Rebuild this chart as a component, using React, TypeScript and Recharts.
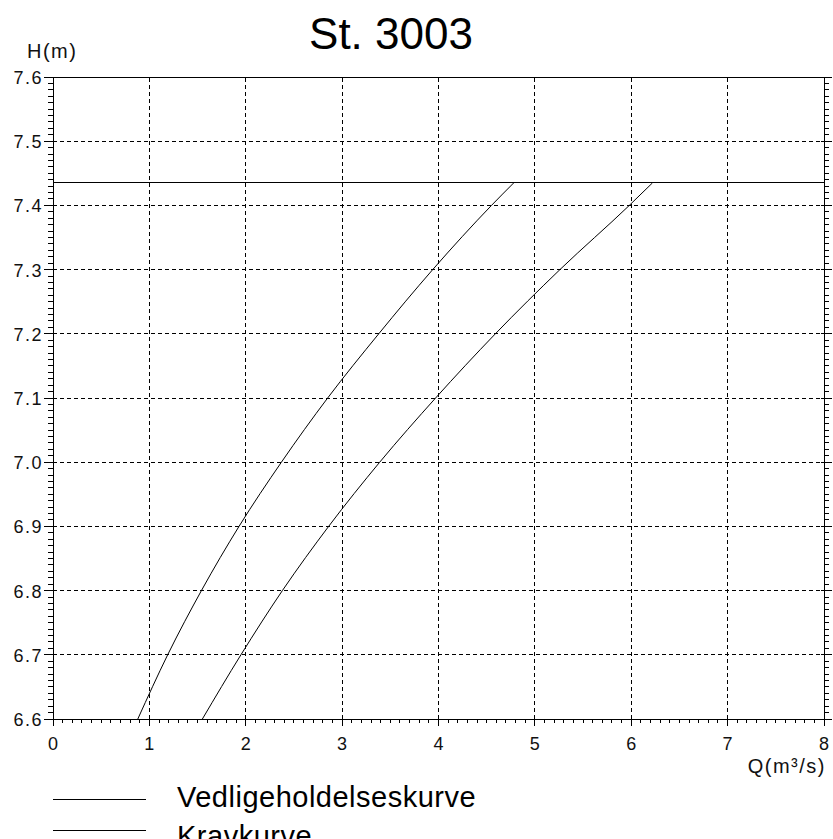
import React from "react";
import { LineChart, Line, XAxis, YAxis, ReferenceLine } from "recharts";

// ---- data ----
const Q_TICKS = [0, 1, 2, 3, 4, 5, 6, 7, 8];
const H_TICKS = [6.6, 6.7, 6.8, 6.9, 7.0, 7.1, 7.2, 7.3, 7.4, 7.5, 7.6];
const MINOR_DIVISIONS = 10;

const VEDL_H = [6.6, 6.7, 6.8, 6.9, 7.0, 7.1, 7.2, 7.3, 7.4, 7.435];
const VEDL_Q = [0.88, 1.19, 1.54, 1.93, 2.37, 2.85, 3.38, 3.94, 4.55, 4.78];

const KRAV_H = [6.6, 6.7, 6.8, 6.9, 7.0, 7.1, 7.2, 7.3, 7.4, 7.435];
const KRAV_Q = [1.55, 1.95, 2.38, 2.86, 3.39, 3.97, 4.59, 5.26, 5.98, 6.22];

const TOP_LEVEL = 7.435;

const TITLE = "St. 3003";
const Y_LABEL = "H(m)";
const X_LABEL = "Q(m³/s)";
const LEGEND = ["Vedligeholdelseskurve", "Kravkurve"];

// ---- derived ----
const vedlData = VEDL_Q.map((q, i) => ({ q, h: VEDL_H[i] }));
const kravData = KRAV_Q.map((q, i) => ({ q, h: KRAV_H[i] }));

function subdivide(majors: number[], n: number): number[] {
  const out: number[] = [];
  for (let i = 0; i < majors.length - 1; i++) {
    for (let j = 0; j < n; j++) {
      out.push(Number((majors[i] + ((majors[i + 1] - majors[i]) * j) / n).toFixed(4)));
    }
  }
  out.push(majors[majors.length - 1]);
  return out;
}
const Q_ALL = subdivide(Q_TICKS, MINOR_DIVISIONS);
const H_ALL = subdivide(H_TICKS, MINOR_DIVISIONS);
const isMajor = (v: number, majors: number[]) => majors.some((m) => Math.abs(m - v) < 1e-6);

const FONT = "'Liberation Sans', Arial, sans-serif";
const tickText = { fontFamily: FONT, fontSize: 18, fill: "#111", letterSpacing: 1.5 } as const;

const BottomTick = (props: any) => {
  const { x, y, payload } = props;
  const v = payload.value;
  const major = isMajor(v, Q_TICKS);
  return (
    <g>
      <line x1={x} x2={x} y1={major ? y - 3 : y} y2={major ? y + 7 : y + 4} stroke="#000" shapeRendering="crispEdges" />
      {major && (
        <text x={x + 0.75} y={y + 31} textAnchor="middle" style={tickText}>
          {String(Math.round(v))}
        </text>
      )}
    </g>
  );
};

const TopTick = (props: any) => {
  const { x, y, payload } = props;
  const major = isMajor(payload.value, Q_TICKS);
  return <line x1={x} x2={x} y1={major ? y + 3 : y} y2={major ? y - 9 : y - 5} stroke="#000" shapeRendering="crispEdges" />;
};

const LeftTick = (props: any) => {
  const { x, y, payload } = props;
  const v = payload.value;
  const major = isMajor(v, H_TICKS);
  return (
    <g>
      <line x1={major ? x + 3 : x} x2={major ? x - 9 : x - 5} y1={y} y2={y} stroke="#000" shapeRendering="crispEdges" />
      {major && (
        <text x={x - 10} y={y + 7} textAnchor="end" style={tickText}>
          {v.toFixed(1)}
        </text>
      )}
    </g>
  );
};

const RightTick = (props: any) => {
  const { x, y, payload } = props;
  const major = isMajor(payload.value, H_TICKS);
  return <line x1={major ? x - 3 : x} x2={major ? x + 8 : x + 5} y1={y} y2={y} stroke="#000" shapeRendering="crispEdges" />;
};

const axisLine = { stroke: "#000", shapeRendering: "crispEdges" } as any;
const grid = { stroke: "#000", strokeDasharray: "4 3", strokeWidth: 1, shapeRendering: "crispEdges" } as any;

export default function App() {
  const W = 833;
  const H = 839;
  return (
    <div style={{ position: "fixed", left: 0, top: 0, width: W, height: H, background: "#fff" }}>
      <LineChart width={W} height={H} margin={{ top: 67, right: 0, bottom: 90, left: 0 }}>
        <XAxis
          xAxisId={0}
          type="number"
          dataKey="q"
          domain={[0, 8]}
          ticks={Q_ALL}
          interval={0}
          tickSize={0}
          tickMargin={0}
          tickLine={false}
          axisLine={axisLine}
          tick={<BottomTick />}
          height={30}
          allowDataOverflow
        />
        <XAxis
          xAxisId="top"
          orientation="top"
          type="number"
          domain={[0, 8]}
          ticks={Q_ALL}
          interval={0}
          tickSize={0}
          tickMargin={0}
          tickLine={false}
          axisLine={axisLine}
          tick={<TopTick />}
          height={10}
          allowDataOverflow
        />
        <YAxis
          yAxisId={0}
          type="number"
          domain={[6.6, 7.6]}
          ticks={H_ALL}
          interval={0}
          tickSize={0}
          tickMargin={0}
          tickLine={false}
          axisLine={axisLine}
          tick={<LeftTick />}
          width={53}
          allowDataOverflow
        />
        <YAxis
          yAxisId="right"
          orientation="right"
          type="number"
          domain={[6.6, 7.6]}
          ticks={H_ALL}
          interval={0}
          tickSize={0}
          tickMargin={0}
          tickLine={false}
          axisLine={axisLine}
          tick={<RightTick />}
          width={9}
          allowDataOverflow
        />
        {Q_TICKS.slice(1, -1).map((q) => (
          <ReferenceLine key={"vx" + q} x={q} xAxisId={0} yAxisId={0} {...grid} />
        ))}
        {H_TICKS.slice(1, -1).map((h) => (
          <ReferenceLine key={"hy" + h} y={h} xAxisId={0} yAxisId={0} {...grid} />
        ))}
        <ReferenceLine y={TOP_LEVEL} xAxisId={0} yAxisId={0} stroke="#000" strokeWidth={1} shapeRendering="crispEdges" />
        <Line
          data={vedlData}
          dataKey="h"
          xAxisId={0}
          yAxisId={0}
          type="monotone"
          stroke="#000"
          strokeWidth={1}
          dot={false}
          activeDot={false}
          isAnimationActive={false}
        />
        <Line
          data={kravData}
          dataKey="h"
          xAxisId={0}
          yAxisId={0}
          type="monotone"
          stroke="#000"
          strokeWidth={1}
          dot={false}
          activeDot={false}
          isAnimationActive={false}
        />
      </LineChart>
      <svg width={W} height={H} style={{ position: "absolute", left: 0, top: 0, pointerEvents: "none" }}>
        <text x={391} y={49} textAnchor="middle" style={{ fontFamily: FONT, fontSize: 44, fill: "#000" }}>
          {TITLE}
        </text>
        <text x={27} y={58} style={{ fontFamily: FONT, fontSize: 20, fill: "#111", letterSpacing: 1.5 }}>
          {Y_LABEL}
        </text>
        <text x={826} y={773} textAnchor="end" style={{ fontFamily: FONT, fontSize: 20, fill: "#111", letterSpacing: 1.5 }}>
          {X_LABEL}
        </text>
        <line x1={53} x2={146} y1={799} y2={799} stroke="#000" strokeWidth={1} shapeRendering="crispEdges" />
        <text x={177} y={807} style={{ fontFamily: FONT, fontSize: 29, fill: "#000", letterSpacing: 0.5 }}>
          {LEGEND[0]}
        </text>
        <line x1={53} x2={146} y1={830} y2={830} stroke="#000" strokeWidth={1} shapeRendering="crispEdges" />
        <text x={177} y={846} style={{ fontFamily: FONT, fontSize: 29, fill: "#000", letterSpacing: 0.5 }}>
          {LEGEND[1]}
        </text>
      </svg>
    </div>
  );
}
